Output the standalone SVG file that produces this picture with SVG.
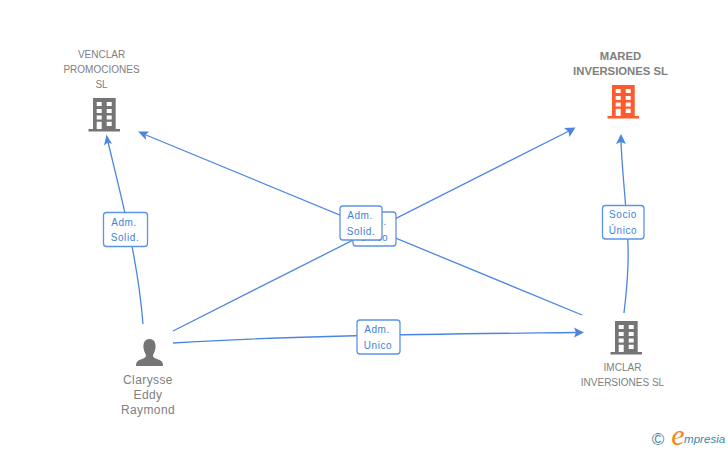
<svg xmlns="http://www.w3.org/2000/svg" width="728" height="450" viewBox="0 0 728 450">
<style>
.n{font-family:"Liberation Sans",Arial,sans-serif;font-size:10px;fill:#808080;text-anchor:middle}
.b{font-weight:bold;font-size:11.300px}
.p{font-size:12px;letter-spacing:.4px}
.c{fill:none;stroke:#4a86e0;stroke-width:1.300}
.a{fill:#4a86e0}
.l{fill:#fff;stroke:#5b93e6;stroke-width:1.300}
.t{font-family:"Liberation Sans",Arial,sans-serif;font-size:10px;fill:#3f7fdc;text-anchor:middle;letter-spacing:.6px}
</style>
<defs>
<g id="bld">
<path d="M93 98H115.700V129H120V131.500H88.500V129H93Z"/>
<path fill="#fff" d="M96.700 102h5v4h-5zM106.700 102h5v4h-5zM96.700 109h5v4h-5zM106.700 109h5v4h-5zM96.700 115.500h5v4h-5zM106.700 115.500h5v4h-5zM96.700 121.700h5V129h-5zM106.700 121.700h5v4.300h-5z"/>
</g>
</defs>
<g id="connectors">
<path class="c" d="M143 324C138 260 122 200 108 142"/>
<path class="a" d="M106.500 134.500L112 144L107.800 142.500L104 145.500Z"/>
<path class="c" d="M173 331L569 131"/>
<path class="a" d="M575.500 127.500L569.500 137L568.500 131.500L564 128Z"/>
<path class="c" d="M582 315L146 135"/>
<path class="a" d="M138 131.500L149 131.500L145.500 135L146 140Z"/>
<path class="c" d="M173 343C300 335 450 334 576 332.500"/>
<path class="a" d="M584 332.500L574 337.500L576 332.500L574 327.500Z"/>
<path class="c" d="M624 313C628 280 630 250 626 210C624 185 622 165 621 142"/>
<path class="a" d="M621 134L626 144L621 142L616 144Z"/>
</g>
<g id="node-venclar">
<text class="n" x="101.500" y="58">VENCLAR</text>
<text class="n" x="101.500" y="73">PROMOCIONES</text>
<text class="n" x="101.500" y="88">SL</text>
<use href="#bld" fill="#757575"/>
</g>
<g id="node-mared">
<text class="n b" x="620.500" y="60">MARED</text>
<text class="n b" x="620.500" y="75">INVERSIONES SL</text>
<use href="#bld" x="519" y="-13" fill="#ff5a2c"/>
</g>
<g id="node-imclar">
<use href="#bld" x="522" y="223" fill="#757575"/>
<text class="n" x="622.500" y="371">IMCLAR</text>
<text class="n" x="622.500" y="386">INVERSIONES SL</text>
</g>
<g id="node-clarysse">
<path fill="#757575" d="M149.500 339C144.500 339 143 343.500 143.500 348C144 352 146 354 146 356C146 358 141 359 138.500 360.500C136.500 361.500 136 363.500 136 366H163C163 363.500 162.500 361.500 160.500 360.500C158 359 153 358 153 356C153 354 155 352 155.500 348C156 343.500 154.500 339 149.500 339Z"/>
<text class="n p" x="148" y="384">Clarysse</text>
<text class="n p" x="148" y="399">Eddy</text>
<text class="n p" x="148" y="414">Raymond</text>
</g>
<g id="label-adm-solid-1">
<rect class="l" x="103.500" y="212.500" width="44" height="34" rx="3"/>
<text class="t" x="124" y="226">Adm.</text>
<text class="t" x="125" y="241">Solid.</text>
</g>
<g id="label-socio-unico">
<rect class="l" x="602.500" y="205.500" width="41.500" height="33.500" rx="3"/>
<text class="t" x="623" y="218">Socio</text>
<text class="t" x="623" y="234">Único</text>
</g>
<g id="label-adm-unico-1">
<rect class="l" x="357" y="320" width="43" height="34" rx="3"/>
<text class="t" x="377" y="333">Adm.</text>
<text class="t" x="378" y="349">Unico</text>
</g>
<g id="label-adm-unico-2">
<rect class="l" x="353" y="212" width="43" height="34" rx="3"/>
<text class="t" x="374" y="225">Adm.</text>
<text class="t" x="374" y="241">Unico</text>
</g>
<g id="label-adm-solid-2">
<rect class="l" x="340" y="206" width="42" height="34" rx="3"/>
<text class="t" x="360" y="219">Adm.</text>
<text class="t" x="361" y="235">Solid.</text>
</g>
<g id="logo">
<text x="658" y="445" style="font-family:'Liberation Sans',sans-serif;font-size:17px;fill:#3f86a8;text-anchor:middle">©</text>
<text x="678" y="445" style="font-family:'Liberation Serif',serif;font-style:italic;font-size:30px;fill:#f08a1d;text-anchor:middle">e</text>
<text x="684" y="443" style="font-family:'Liberation Sans',sans-serif;font-style:italic;font-size:11.600px;fill:#3f86a8">mpresia</text>
</g>
</svg>
